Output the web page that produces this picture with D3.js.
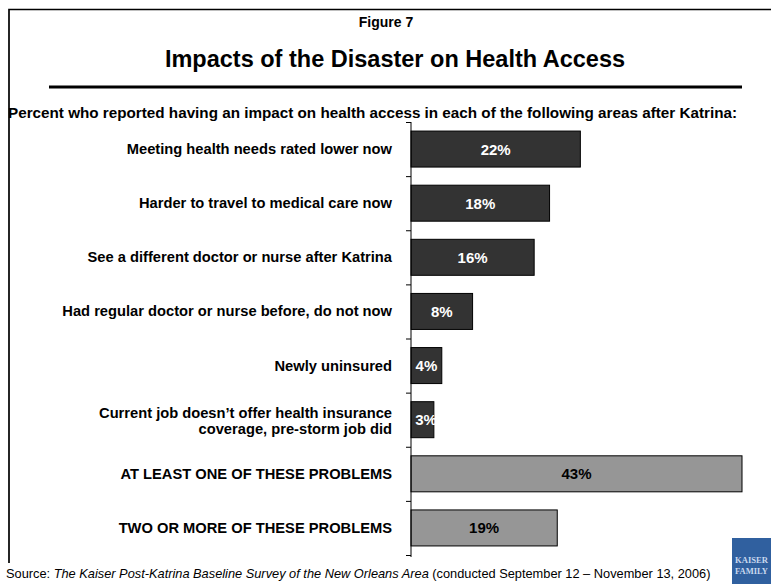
<!DOCTYPE html>
<html>
<head>
<meta charset="utf-8">
<script src="https://cdn.jsdelivr.net/npm/d3@7"></script>
<style>
  body { margin: 0; background: #fff; }
  svg { display: block; font-family: "Liberation Sans", Arial, sans-serif; }
</style>
</head>
<body>
<div id="chart"></div>
<script>
// data
var categories = [
  ["Meeting health needs rated lower now"],
  ["Harder to travel to medical care now"],
  ["See a different doctor or nurse after Katrina"],
  ["Had regular doctor or nurse before, do not now"],
  ["Newly uninsured"],
  ["Current job doesn\u2019t offer health insurance", "coverage, pre-storm job did"],
  ["AT LEAST ONE OF THESE PROBLEMS"],
  ["TWO OR MORE OF THESE PROBLEMS"]
];
var values = [22, 18, 16, 8, 4, 3, 43, 19];
var summary = [false, false, false, false, false, false, true, true];

var W = 771, H = 584;

var svg = d3.select("#chart").append("svg")
  .attr("width", W)
  .attr("height", H);

// frame (open on the right)
svg.append("path")
  .attr("d", "M9,563 L9,9.5 L771,9.5")
  .attr("fill", "none")
  .attr("stroke", "#000")
  .attr("stroke-width", 1.7);

svg.append("text")
  .attr("x", 386).attr("y", 27)
  .attr("text-anchor", "middle")
  .style("font-size", "14px").style("font-weight", "bold")
  .text("Figure 7");

svg.append("text")
  .attr("x", 395).attr("y", 67)
  .attr("text-anchor", "middle")
  .style("font-size", "23.5px").style("font-weight", "bold")
  .text("Impacts of the Disaster on Health Access");

svg.append("line")
  .attr("x1", 49).attr("x2", 742)
  .attr("y1", 87).attr("y2", 87)
  .attr("stroke", "#000").attr("stroke-width", 3);

svg.append("text")
  .attr("x", 8).attr("y", 118)
  .attr("textLength", 729).attr("lengthAdjust", "spacingAndGlyphs")
  .style("font-size", "15px").style("font-weight", "bold")
  .text("Percent who reported having an impact on health access in each of the following areas after Katrina:");

// scales
var x = d3.scaleLinear()
  .domain([0, d3.max(values)])
  .range([411, 742]);

var y = d3.scaleBand()
  .domain(d3.range(values.length))
  .range([122, 555])
  .padding(0);

var edges = d3.scaleLinear()
  .domain([0, values.length])
  .range([122, 555]);

var barH = 36;

// bars
svg.selectAll("rect.bar")
  .data(values)
  .enter()
  .append("rect")
  .attr("class", "bar")
  .attr("x", x(0))
  .attr("y", function(d, i) { return y(i) + (y.bandwidth() - barH) / 2; })
  .attr("width", function(d) { return x(d) - x(0); })
  .attr("height", barH)
  .attr("fill", function(d, i) { return summary[i] ? "#969696" : "#333333"; })
  .attr("stroke", "#000")
  .attr("stroke-width", 1);

// value labels
svg.selectAll("text.val")
  .data(values)
  .enter()
  .append("text")
  .attr("class", "val")
  .attr("x", function(d) { return Math.max((x(0) + x(d)) / 2, x(0) + 15); })
  .attr("y", function(d, i) { return y(i) + y.bandwidth() / 2 + 5.5; })
  .attr("text-anchor", "middle")
  .attr("fill", function(d, i) { return summary[i] ? "#000" : "#fff"; })
  .style("font-size", "15px").style("font-weight", "bold")
  .text(function(d) { return d + "%"; });

// white-on-white overflow of the narrow bars is hidden in the original
svg.append("rect")
  .attr("x", x(3) + 0.5).attr("y", y(5) + 5).attr("width", 20).attr("height", 44)
  .attr("fill", "#fff");

// category axis, ticks on the band edges
svg.append("g")
  .attr("transform", "translate(" + x(0) + ",0)")
  .call(d3.axisLeft(edges).ticks(values.length).tickSize(5).tickSizeOuter(0).tickFormat(""))
  .call(function(g) { g.select(".domain").attr("stroke", "#000").attr("d", "M0,122V557"); });

// category labels
var cat = svg.selectAll("text.cat")
  .data(categories)
  .enter()
  .append("text")
  .attr("class", "cat")
  .attr("text-anchor", "end")
  .style("font-size", "14.7px").style("font-weight", "bold")
  .attr("fill", "#000")
  .attr("transform", function(d, i) {
    var cy = y(i) + y.bandwidth() / 2 + 5 - (d.length - 1) * 7;
    return "translate(392," + cy + ")";
  });

cat.selectAll("tspan")
  .data(function(d) { return d; })
  .enter()
  .append("tspan")
  .attr("x", 0)
  .attr("dy", function(d, j) { return j ? 16 : 0; })
  .text(function(d) { return d; });

// source
var src = svg.append("text")
  .attr("x", 6).attr("y", 578)
  .style("font-size", "12.8px");
src.append("tspan").text("Source: ");
src.append("tspan").style("font-style", "italic").text("The Kaiser Post-Katrina Baseline Survey of the New Orleans Area");
src.append("tspan").text(" (conducted September 12 \u2013 November 13, 2006)");

// logo block
var logo = svg.append("g").attr("transform", "translate(732,538)");
logo.append("rect")
  .attr("width", 39).attr("height", 46)
  .attr("fill", "#30609f");
logo.append("text")
  .attr("x", 3).attr("y", 25)
  .attr("textLength", 33).attr("lengthAdjust", "spacingAndGlyphs")
  .attr("fill", "#c8d8ee")
  .style("font-size", "9px").style("font-weight", "bold").style("font-family", "Liberation Serif, serif")
  .text("KAISER");
logo.append("text")
  .attr("x", 3).attr("y", 36)
  .attr("textLength", 33).attr("lengthAdjust", "spacingAndGlyphs")
  .attr("fill", "#c8d8ee")
  .style("font-size", "9px").style("font-weight", "bold").style("font-family", "Liberation Serif, serif")
  .text("FAMILY");
</script>
</body>
</html>
